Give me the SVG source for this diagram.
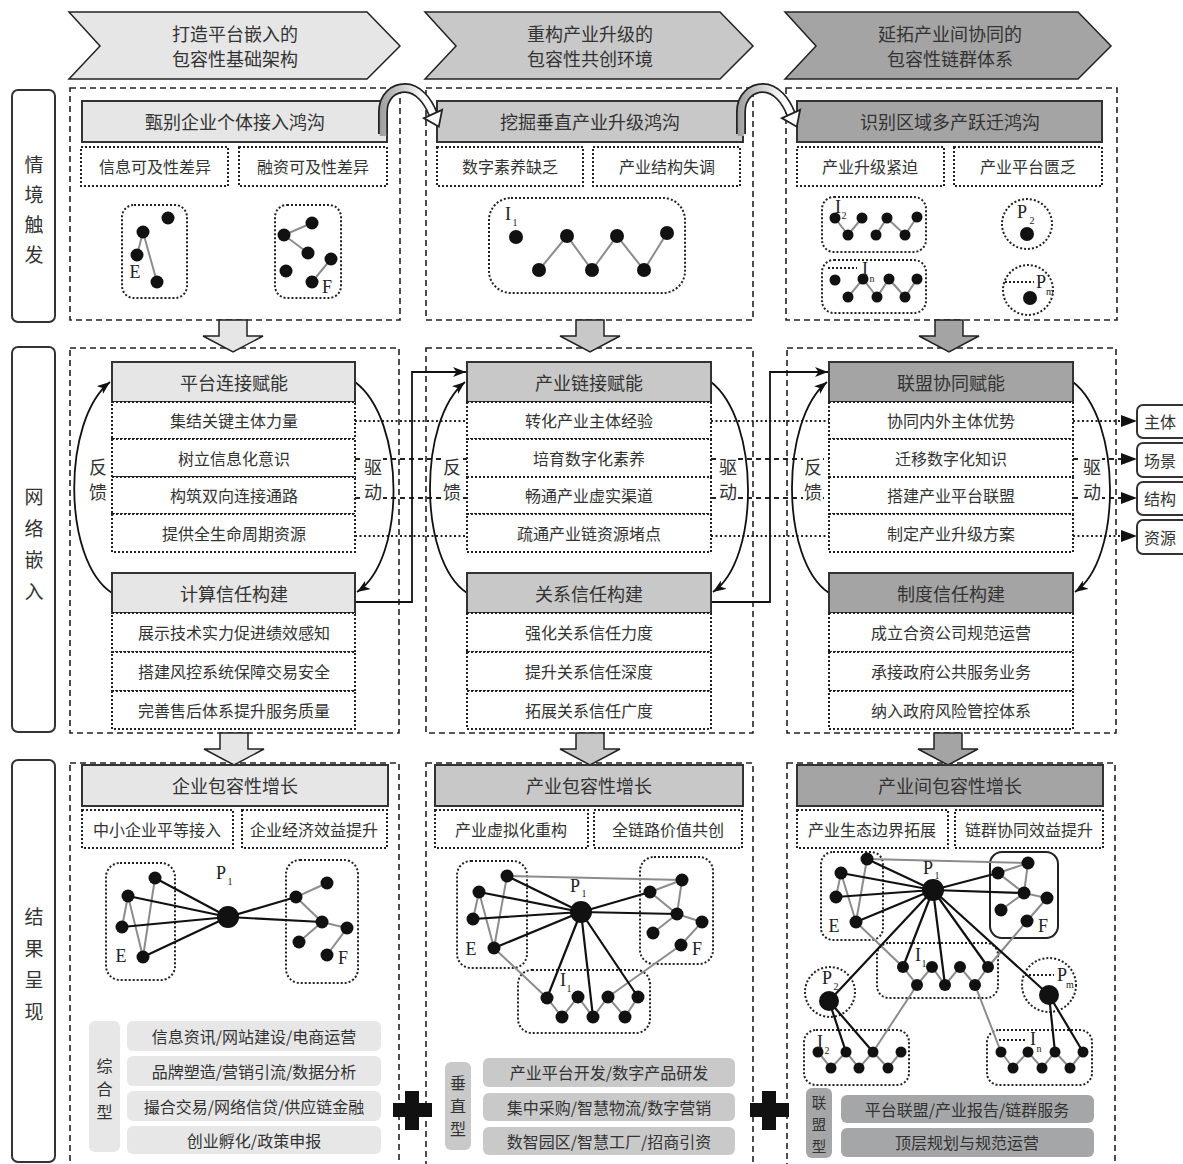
<svg xmlns="http://www.w3.org/2000/svg" width="1183" height="1164" viewBox="0 0 1183 1164">
<defs>
<style>
.cn{font-family:"Noto Sans CJK SC","Noto Sans",sans-serif;fill:#333;text-anchor:middle;dominant-baseline:central}
.f19{font-size:19px}.f18{font-size:18px}.f16{font-size:16px}.f14{font-size:14.5px}
.lt{font-family:"Liberation Serif",serif;fill:#222;font-size:18px;dominant-baseline:central;text-anchor:middle}
.sb{font-family:"Liberation Serif",serif;fill:#222;font-size:10px;dominant-baseline:central;text-anchor:middle}
.dash{fill:none;stroke:#222;stroke-width:1.6;stroke-dasharray:6 4}
.dot{fill:#fff;stroke:#222;stroke-width:2;stroke-dasharray:2 2}
.dotn{fill:none;stroke:#222;stroke-width:2;stroke-dasharray:2 2}
.tb{stroke:#333;stroke-width:2}
.g1{fill:#e6e6e6}.g2{fill:#c8c8c8}.g3{fill:#a4a4a4}
.bk{stroke:#111;stroke-width:2.2;fill:none}
.gy{stroke:#8c8c8c;stroke-width:2;fill:none}
.nd{fill:#111}
.side{fill:#fff;stroke:#333;stroke-width:2}
.blk{stroke:#222;stroke-width:1.5}
.ln{fill:none;stroke:#111;stroke-width:1.8}
.ldot{fill:none;stroke:#222;stroke-width:2;stroke-dasharray:2 2.5}
.ldash{fill:none;stroke:#222;stroke-width:1.8;stroke-dasharray:5 4}
</style>
<marker id="ah" markerUnits="userSpaceOnUse" markerWidth="14" markerHeight="11" refX="13" refY="5" orient="auto">
<path d="M0,0 L13,5 L0,10 L3.5,5 Z" fill="#111"/>
</marker>
<linearGradient id="ga1" x1="378" y1="0" x2="425" y2="0" gradientUnits="userSpaceOnUse"><stop offset="0" stop-color="#999"/><stop offset="1" stop-color="#fff"/></linearGradient>
<linearGradient id="ga2" x1="736" y1="0" x2="783" y2="0" gradientUnits="userSpaceOnUse"><stop offset="0" stop-color="#999"/><stop offset="1" stop-color="#fff"/></linearGradient>
</defs>
<rect width="1183" height="1164" fill="#fff"/>

<!-- headers -->
<g id="header1"><path d="M69,12 H367 L400,46 L367,79 H69 L100,46 Z" class="g1 blk"/><text class="cn f18" x="235" y="33">打造平台嵌入的</text><text class="cn f18" x="235" y="58">包容性基础架构</text></g>
<g id="header2"><path d="M425,12 H720 L753,46 L720,79 H425 L456,46 Z" class="g2 blk"/><text class="cn f18" x="590" y="33">重构产业升级的</text><text class="cn f18" x="590" y="58">包容性共创环境</text></g>
<g id="header3"><path d="M785,12 H1078 L1111,46 L1078,79 H785 L816,46 Z" class="g3 blk"/><text class="cn f18" x="950" y="33">延拓产业间协同的</text><text class="cn f18" x="950" y="58">包容性链群体系</text></g>

<!-- side labels -->
<g id="side1"><rect x="12" y="90" width="43" height="232" rx="6" class="side"/><text class="cn f19" x="34" y="163">情</text><text class="cn f19" x="34" y="193">境</text><text class="cn f19" x="34" y="223">触</text><text class="cn f19" x="34" y="253">发</text></g>
<g id="side2"><rect x="12" y="347" width="43" height="385" rx="6" class="side"/><text class="cn f19" x="34" y="495">网</text><text class="cn f19" x="34" y="527">络</text><text class="cn f19" x="34" y="558">嵌</text><text class="cn f19" x="34" y="590">入</text></g>
<g id="side3"><rect x="12" y="760" width="43" height="402" rx="6" class="side"/><text class="cn f19" x="34" y="915">结</text><text class="cn f19" x="34" y="947">果</text><text class="cn f19" x="34" y="978">呈</text><text class="cn f19" x="34" y="1010">现</text></g>

<!-- containers -->
<g id="containers">
<rect x="70" y="88" width="330" height="232" class="dash"/>
<rect x="426" y="88" width="327" height="232" class="dash"/>
<rect x="786" y="88" width="331" height="232" class="dash"/>
<rect x="70" y="348" width="329" height="385" class="dash"/>
<rect x="426" y="348" width="327" height="385" class="dash"/>
<rect x="787" y="348" width="329" height="385" class="dash"/>
<rect x="70" y="763" width="329" height="410" class="dash"/>
<rect x="426" y="763" width="327" height="410" class="dash"/>
<rect x="787" y="763" width="328" height="410" class="dash"/>
</g>

<!-- connectors -->
<g id="connectors">
<path d="M355,421 H467 M711,421 H829 M1073,421 H1124" class="ldot"/>
<path d="M355,459 H467 M711,459 H829 M1073,459 H1124" class="ldash"/>
<path d="M355,498 H467 M711,498 H829 M1073,498 H1124" class="ldash"/>
<path d="M355,536 H467 M711,536 H829 M1073,536 H1124" class="ldot"/>
<path d="M1121,415 L1137,421 L1121,427 Z M1121,453 L1137,459 L1121,465 Z M1121,492 L1137,498 L1121,504 Z M1121,530 L1137,536 L1121,542 Z" fill="#111"/>
<path d="M112,593 C62,560 62,420 110,382" class="ln" marker-end="url(#ah)"/>
<path d="M355,382 C406,420 406,560 357,592" class="ln" marker-end="url(#ah)"/>
<path d="M467,593 C418,560 418,420 465,382" class="ln" marker-end="url(#ah)"/>
<path d="M711,382 C760,420 760,560 713,592" class="ln" marker-end="url(#ah)"/>
<path d="M829,593 C780,560 780,420 827,382" class="ln" marker-end="url(#ah)"/>
<path d="M1073,382 C1122,420 1122,560 1075,592" class="ln" marker-end="url(#ah)"/>
<path d="M355,602 H412 V372 H466" class="ln" marker-end="url(#ah)"/>
<path d="M711,602 H770 V372 H828" class="ln" marker-end="url(#ah)"/>
<path d="M219,320 H247 V336 H263 L233,352 L203,336 H219 Z" class="g1 blk"/>
<path d="M576,320 H604 V336 H620 L590,352 L560,336 H576 Z" class="g2 blk"/>
<path d="M935,320 H963 V336 H979 L949,352 L919,336 H935 Z" class="g3 blk"/>
<path d="M220,733 H248 V749 H264 L234,765 L204,749 H220 Z" class="g1 blk"/>
<path d="M576,733 H604 V749 H620 L590,765 L560,749 H576 Z" class="g2 blk"/>
<path d="M934,733 H962 V749 H978 L948,765 L918,749 H934 Z" class="g3 blk"/>
</g>

<!-- row 1 -->
<g id="gap1">
<rect x="82" y="101" width="305" height="41" class="g1 tb"/><text class="cn f18" x="235" y="121">甄别企业个体接入鸿沟</text>
<rect x="81" y="147" width="147" height="39" class="dot"/><text class="cn f16" x="155" y="166">信息可及性差异</text>
<rect x="239" y="147" width="148" height="39" class="dot"/><text class="cn f16" x="313" y="166">融资可及性差异</text>
<rect x="122" y="205" width="65" height="93" rx="12" class="dotn"/>
<rect x="275" y="205" width="66" height="93" rx="12" class="dotn"/>
<path d="M137,255 L143,232 L157,282 M312,223 L284,235 L308,253 M331,259 L312,282" class="gy"/>
<g class="nd"><circle cx="168" cy="218" r="6.5"/><circle cx="143" cy="232" r="6.5"/><circle cx="137" cy="255" r="6.5"/><circle cx="157" cy="282" r="6.5"/><circle cx="312" cy="223" r="6.5"/><circle cx="284" cy="235" r="6.5"/><circle cx="308" cy="253" r="6.5"/><circle cx="331" cy="259" r="6.5"/><circle cx="286" cy="271" r="6.5"/><circle cx="312" cy="282" r="6.5"/></g>
<text class="lt" x="135" y="272">E</text><text class="lt" x="327" y="287">F</text>
</g>
<g id="gap2">
<rect x="437" y="101" width="306" height="41" class="g2 tb"/><text class="cn f18" x="590" y="121">挖掘垂直产业升级鸿沟</text>
<rect x="437" y="147" width="146" height="39" class="dot"/><text class="cn f16" x="510" y="166">数字素养缺乏</text>
<rect x="593" y="147" width="147" height="39" class="dot"/><text class="cn f16" x="667" y="166">产业结构失调</text>
<rect x="489" y="198" width="196" height="95" rx="22" class="dotn"/>
<path d="M539,270 L567,236 L592,270 L617,236 L644,270 L667,233" class="gy"/>
<g class="nd"><circle cx="516" cy="237" r="7"/><circle cx="539" cy="270" r="7"/><circle cx="567" cy="236" r="7"/><circle cx="592" cy="270" r="7"/><circle cx="617" cy="236" r="7"/><circle cx="644" cy="270" r="7"/><circle cx="667" cy="233" r="7"/></g>
<text class="lt" x="508" y="214">I</text><text class="sb" x="515" y="222">1</text>
</g>
<g id="gap3">
<rect x="797" y="101" width="305" height="41" class="g3 tb"/><text class="cn f18" x="950" y="121">识别区域多产跃迁鸿沟</text>
<rect x="797" y="147" width="147" height="39" class="dot"/><text class="cn f16" x="870" y="166">产业升级紧迫</text>
<rect x="954" y="147" width="148" height="39" class="dot"/><text class="cn f16" x="1028" y="166">产业平台匮乏</text>
<rect x="822" y="197" width="104" height="55" rx="12" class="dotn"/>
<rect x="822" y="260" width="104" height="53" rx="12" class="dotn"/>
<path d="M835,218 L848,235 L862,218 M876,235 L887,218 L905,235 L917,217 M848,297 L863,279 L877,297 L889,279 L905,297 L917,279" class="gy"/>
<path d="M828,268 H857" class="dotn"/>
<g class="nd"><circle cx="835" cy="218" r="5.5"/><circle cx="848" cy="235" r="5.5"/><circle cx="862" cy="218" r="5.5"/><circle cx="876" cy="235" r="5.5"/><circle cx="887" cy="218" r="5.5"/><circle cx="905" cy="235" r="5.5"/><circle cx="917" cy="217" r="5.5"/>
<circle cx="835" cy="280" r="5.5"/><circle cx="848" cy="297" r="5.5"/><circle cx="863" cy="279" r="5.5"/><circle cx="877" cy="297" r="5.5"/><circle cx="889" cy="279" r="5.5"/><circle cx="905" cy="297" r="5.5"/><circle cx="917" cy="279" r="5.5"/></g>
<text class="lt" x="838" y="207">I</text><text class="sb" x="844" y="215">2</text>
<text class="lt" x="865" y="269">I</text><text class="sb" x="872" y="278">n</text>
<circle cx="1027" cy="224" r="25" class="dotn"/><circle cx="1028" cy="290" r="25" class="dotn"/>
<path d="M1005,282 H1034" class="dotn"/>
<circle cx="1027" cy="234" r="7" class="nd"/><circle cx="1030" cy="298" r="7" class="nd"/>
<text class="lt" x="1022" y="212">P</text><text class="sb" x="1032" y="220">2</text>
<text class="lt" x="1041" y="282">P</text><text class="sb" x="1050" y="291">m</text>
</g>

<!-- grey curved arrows -->
<g id="turn1">
<path d="M383,134 L383,112 C383,96 394,88 405,88 C418,88 428,101 433,114" fill="none" stroke="#222" stroke-width="10"/>
<path d="M383,136 L383,112 C383,96 394,88 405,88 C418,88 428,101 433,114" fill="none" stroke="url(#ga1)" stroke-width="6.5"/>
<path d="M423.9,118.1 L438.8,126.7 L442.1,109.9 Z" fill="#fff" stroke="#222" stroke-width="1.8"/>
</g>
<g id="turn2">
<path d="M741,134 L741,112 C741,96 752,88 763,88 C776,88 786,101 791,114" fill="none" stroke="#222" stroke-width="10"/>
<path d="M741,136 L741,112 C741,96 752,88 763,88 C776,88 786,101 791,114" fill="none" stroke="url(#ga2)" stroke-width="6.5"/>
<path d="M781.9,118.1 L796.8,126.7 L800.1,109.9 Z" fill="#fff" stroke="#222" stroke-width="1.8"/>
</g>

<!-- row 2 -->
<g id="net1">
<rect x="112" y="362" width="243" height="40" class="g1 tb"/><text class="cn f18" x="234" y="382">平台连接赋能</text>
<rect x="112" y="402" width="243" height="37" class="dot"/><text class="cn f16" x="234" y="420">集结关键主体力量</text>
<rect x="112" y="439" width="243" height="38" class="dot"/><text class="cn f16" x="234" y="458">树立信息化意识</text>
<rect x="112" y="477" width="243" height="37" class="dot"/><text class="cn f16" x="234" y="495">构筑双向连接通路</text>
<rect x="112" y="514" width="243" height="38" class="dot"/><text class="cn f16" x="234" y="533">提供全生命周期资源</text>
<rect x="112" y="573" width="243" height="40" class="g1 tb"/><text class="cn f18" x="234" y="593">计算信任构建</text>
<rect x="112" y="613" width="243" height="39" class="dot"/><text class="cn f16" x="234" y="632">展示技术实力促进绩效感知</text>
<rect x="112" y="652" width="243" height="39" class="dot"/><text class="cn f16" x="234" y="671">搭建风控系统保障交易安全</text>
<rect x="112" y="691" width="243" height="38" class="dot"/><text class="cn f16" x="234" y="710">完善售后体系提升服务质量</text>
</g>
<g id="net2">
<rect x="467" y="362" width="244" height="40" class="g2 tb"/><text class="cn f18" x="589" y="382">产业链接赋能</text>
<rect x="467" y="402" width="244" height="37" class="dot"/><text class="cn f16" x="589" y="420">转化产业主体经验</text>
<rect x="467" y="439" width="244" height="38" class="dot"/><text class="cn f16" x="589" y="458">培育数字化素养</text>
<rect x="467" y="477" width="244" height="37" class="dot"/><text class="cn f16" x="589" y="495">畅通产业虚实渠道</text>
<rect x="467" y="514" width="244" height="38" class="dot"/><text class="cn f16" x="589" y="533">疏通产业链资源堵点</text>
<rect x="467" y="573" width="244" height="40" class="g2 tb"/><text class="cn f18" x="589" y="593">关系信任构建</text>
<rect x="467" y="613" width="244" height="39" class="dot"/><text class="cn f16" x="589" y="632">强化关系信任力度</text>
<rect x="467" y="652" width="244" height="39" class="dot"/><text class="cn f16" x="589" y="671">提升关系信任深度</text>
<rect x="467" y="691" width="244" height="38" class="dot"/><text class="cn f16" x="589" y="710">拓展关系信任广度</text>
</g>
<g id="net3">
<rect x="829" y="362" width="244" height="40" class="g3 tb"/><text class="cn f18" x="951" y="382">联盟协同赋能</text>
<rect x="829" y="402" width="244" height="37" class="dot"/><text class="cn f16" x="951" y="420">协同内外主体优势</text>
<rect x="829" y="439" width="244" height="38" class="dot"/><text class="cn f16" x="951" y="458">迁移数字化知识</text>
<rect x="829" y="477" width="244" height="37" class="dot"/><text class="cn f16" x="951" y="495">搭建产业平台联盟</text>
<rect x="829" y="514" width="244" height="38" class="dot"/><text class="cn f16" x="951" y="533">制定产业升级方案</text>
<rect x="829" y="573" width="244" height="40" class="g3 tb"/><text class="cn f18" x="951" y="593">制度信任构建</text>
<rect x="829" y="613" width="244" height="39" class="dot"/><text class="cn f16" x="951" y="632">成立合资公司规范运营</text>
<rect x="829" y="652" width="244" height="39" class="dot"/><text class="cn f16" x="951" y="671">承接政府公共服务业务</text>
<rect x="829" y="691" width="244" height="38" class="dot"/><text class="cn f16" x="951" y="710">纳入政府风险管控体系</text>
</g>
<g id="loop-labels" fill="#fff">
<rect x="88" y="453" width="20" height="50"/><text class="cn f18" x="98" y="466">反</text><text class="cn f18" x="98" y="491">馈</text>
<rect x="363" y="453" width="20" height="50"/><text class="cn f18" x="373" y="466">驱</text><text class="cn f18" x="373" y="491">动</text>
<rect x="442" y="453" width="20" height="50"/><text class="cn f18" x="452" y="466">反</text><text class="cn f18" x="452" y="491">馈</text>
<rect x="718" y="453" width="20" height="50"/><text class="cn f18" x="728" y="466">驱</text><text class="cn f18" x="728" y="491">动</text>
<rect x="803" y="453" width="20" height="50"/><text class="cn f18" x="813" y="466">反</text><text class="cn f18" x="813" y="491">馈</text>
<rect x="1082" y="453" width="20" height="50"/><text class="cn f18" x="1092" y="466">驱</text><text class="cn f18" x="1092" y="491">动</text>
</g>
<g id="dim-subject"><rect x="1137" y="405" width="52" height="33" rx="6" class="side"/><text class="cn f16" x="1160" y="421">主体</text></g>
<g id="dim-scene"><rect x="1137" y="443" width="52" height="34" rx="6" class="side"/><text class="cn f16" x="1160" y="460">场景</text></g>
<g id="dim-structure"><rect x="1137" y="482" width="52" height="33" rx="6" class="side"/><text class="cn f16" x="1160" y="498">结构</text></g>
<g id="dim-resource"><rect x="1137" y="520" width="52" height="34" rx="6" class="side"/><text class="cn f16" x="1160" y="537">资源</text></g>

<!-- row 3 -->
<g id="res1">
<rect x="82" y="765" width="306" height="41" class="g1 tb"/><text class="cn f18" x="235" y="785">企业包容性增长</text>
<rect x="82" y="810" width="151" height="38" class="dot"/><text class="cn f16" x="157" y="829">中小企业平等接入</text>
<rect x="242" y="810" width="145" height="38" class="dot"/><text class="cn f16" x="314" y="829">企业经济效益提升</text>
<rect x="106" y="863" width="69" height="117" rx="14" class="dotn"/>
<rect x="286" y="860" width="72" height="123" rx="14" class="dotn"/>
<path d="M128,896 L122,927 M128,896 L143,957 L155,878 M327,883 L296,897 L322,922 L347,928 L327,955 M322,922 L299,942" class="gy"/>
<path d="M228,917 L155,878 M228,917 L128,896 M228,917 L122,927 M228,917 L143,957 M228,917 L296,897 M228,917 L322,922" class="bk"/>
<g class="nd"><circle cx="228" cy="917" r="11"/><circle cx="155" cy="878" r="6.5"/><circle cx="128" cy="896" r="6.5"/><circle cx="122" cy="927" r="6.5"/><circle cx="143" cy="957" r="6.5"/><circle cx="327" cy="883" r="6.5"/><circle cx="296" cy="897" r="6.5"/><circle cx="322" cy="922" r="6.5"/><circle cx="347" cy="928" r="6.5"/><circle cx="299" cy="942" r="6.5"/><circle cx="327" cy="955" r="6.5"/></g>
<text class="lt" x="221" y="873">P</text><text class="sb" x="230" y="881">1</text>
<text class="lt" x="121" y="956">E</text><text class="lt" x="343" y="958">F</text>
<rect x="89" y="1021" width="31" height="131" rx="6" fill="#e7e7e8"/>
<text class="cn f16" x="104.5" y="1065">综</text><text class="cn f16" x="104.5" y="1088">合</text><text class="cn f16" x="104.5" y="1111">型</text>
<rect x="127" y="1021" width="254" height="30" rx="6" fill="#e7e7e8"/><text class="cn f16" x="254" y="1036">信息资讯/网站建设/电商运营</text>
<rect x="127" y="1056" width="254" height="30" rx="6" fill="#e7e7e8"/><text class="cn f16" x="254" y="1071">品牌塑造/营销引流/数据分析</text>
<rect x="127" y="1091" width="254" height="30" rx="6" fill="#e7e7e8"/><text class="cn f16" x="254" y="1106">撮合交易/网络信贷/供应链金融</text>
<rect x="127" y="1126" width="254" height="28" rx="6" fill="#e7e7e8"/><text class="cn f16" x="254" y="1140">创业孵化/政策申报</text>
</g>
<g id="res2">
<rect x="435" y="765" width="308" height="41" class="g2 tb"/><text class="cn f18" x="589" y="785">产业包容性增长</text>
<rect x="435" y="810" width="153" height="38" class="dot"/><text class="cn f16" x="511" y="829">产业虚拟化重构</text>
<rect x="594" y="810" width="148" height="38" class="dot"/><text class="cn f16" x="668" y="829">全链路价值共创</text>
<rect x="457" y="861" width="70" height="107" rx="14" class="dotn"/>
<rect x="640" y="857" width="73" height="107" rx="14" class="dotn"/>
<rect x="518" y="970" width="132" height="63" rx="14" class="dotn"/>
<path d="M507,876 L682,880 M479,892 L473,919 M479,892 L494,948 L507,876 M494,948 L547,998 L562,1017 L578,997 L593,1017 L608,997 L625,1017 L638,997 M650,892 L682,880 L677,914 L650,892 M677,914 L702,922 L681,945 L608,997 M677,914 L653,933" class="gy"/>
<path d="M581,912 L507,876 M581,912 L479,892 M581,912 L473,919 M581,912 L494,948 M581,912 L650,892 M581,912 L677,914 M581,912 L547,998 M581,912 L593,1017 M581,912 L638,997" class="bk"/>
<g class="nd"><circle cx="581" cy="912" r="11"/><circle cx="507" cy="876" r="6.5"/><circle cx="479" cy="892" r="6.5"/><circle cx="473" cy="919" r="6.5"/><circle cx="494" cy="948" r="6.5"/><circle cx="682" cy="880" r="6.5"/><circle cx="650" cy="892" r="6.5"/><circle cx="677" cy="914" r="6.5"/><circle cx="702" cy="922" r="6.5"/><circle cx="653" cy="933" r="6.5"/><circle cx="681" cy="945" r="6.5"/>
<circle cx="547" cy="998" r="6.5"/><circle cx="562" cy="1017" r="6.5"/><circle cx="578" cy="997" r="6.5"/><circle cx="593" cy="1017" r="6.5"/><circle cx="608" cy="997" r="6.5"/><circle cx="625" cy="1017" r="6.5"/><circle cx="638" cy="997" r="6.5"/></g>
<text class="lt" x="575" y="886">P</text><text class="sb" x="584" y="893">1</text>
<text class="lt" x="471" y="949">E</text><text class="lt" x="697" y="949">F</text>
<text class="lt" x="563" y="980">I</text><text class="sb" x="569" y="988">1</text>
<rect x="445" y="1062" width="26" height="88" rx="6" fill="#c9c9ca"/>
<text class="cn f16" x="458" y="1082">垂</text><text class="cn f16" x="458" y="1105">直</text><text class="cn f16" x="458" y="1128">型</text>
<rect x="483" y="1058" width="252" height="29" rx="6" fill="#c9c9ca"/><text class="cn f16" x="609" y="1072">产业平台开发/数字产品研发</text>
<rect x="483" y="1093" width="252" height="28" rx="6" fill="#c9c9ca"/><text class="cn f16" x="609" y="1107">集中采购/智慧物流/数字营销</text>
<rect x="483" y="1127" width="252" height="28" rx="6" fill="#c9c9ca"/><text class="cn f16" x="609" y="1141">数智园区/智慧工厂/招商引资</text>
</g>
<g id="res3">
<rect x="797" y="765" width="306" height="41" class="g3 tb"/><text class="cn f18" x="950" y="785">产业间包容性增长</text>
<rect x="797" y="810" width="151" height="38" class="dot"/><text class="cn f16" x="872" y="829">产业生态边界拓展</text>
<rect x="955" y="810" width="148" height="38" class="dot"/><text class="cn f16" x="1029" y="829">链群协同效益提升</text>
<rect x="821" y="852" width="62" height="88" rx="12" class="dotn"/>
<rect x="990" y="852" width="68" height="86" rx="12" fill="none" stroke="#222" stroke-width="2"/>
<rect x="877" y="943" width="121" height="55" rx="12" class="dotn"/>
<circle cx="830" cy="992" r="25" class="dotn"/>
<circle cx="1049" cy="985" r="27" class="dotn"/>
<rect x="804" y="1030" width="105" height="55" rx="12" class="dotn"/>
<rect x="987" y="1030" width="105" height="55" rx="12" class="dotn"/>
<path d="M1025,975 H1054 M999,1040 H1027" class="dotn"/>
<path d="M867,859 L1028,863 M841,873 L836,897 M841,873 L856,922 L867,859 M856,922 L903,967 L917,985 L932,967 L945,985 L960,967 L975,985 L988,967 M998,873 L1028,863 L1024,893 L998,873 M1024,893 L1047,898 L1027,921 L988,967 M1024,893 L1001,910 M917,985 L873,1052 M975,985 L1001,1052 M818,1052 L831,1068 L846,1052 L859,1068 L873,1052 L888,1068 L901,1052 M1001,1052 L1013,1068 L1028,1052 L1042,1068 L1055,1052 L1070,1068 L1083,1052" class="gy"/>
<path d="M933,890 L867,859 M933,890 L841,873 M933,890 L836,897 M933,890 L856,922 M933,890 L998,873 M933,890 L1024,893 M933,890 L903,967 M933,890 L945,985 M933,890 L988,967 M933,890 L829,1001 M933,890 L1049,995 M829,1001 L846,1052 M829,1001 L873,1052 M1049,995 L1055,1052 M1049,995 L1083,1052" class="bk"/>
<g class="nd"><circle cx="933" cy="890" r="11"/><circle cx="829" cy="1001" r="10"/><circle cx="1049" cy="995" r="10"/>
<circle cx="867" cy="859" r="6.5"/><circle cx="841" cy="873" r="6.5"/><circle cx="836" cy="897" r="6.5"/><circle cx="856" cy="922" r="6.5"/>
<circle cx="1028" cy="863" r="6.5"/><circle cx="998" cy="873" r="6.5"/><circle cx="1024" cy="893" r="6.5"/><circle cx="1047" cy="898" r="6.5"/><circle cx="1001" cy="910" r="6.5"/><circle cx="1027" cy="921" r="6.5"/>
<circle cx="903" cy="967" r="6"/><circle cx="917" cy="985" r="6"/><circle cx="932" cy="967" r="6"/><circle cx="945" cy="985" r="6"/><circle cx="960" cy="967" r="6"/><circle cx="975" cy="985" r="6"/><circle cx="988" cy="967" r="6"/>
<circle cx="818" cy="1052" r="5.5"/><circle cx="831" cy="1068" r="5.5"/><circle cx="846" cy="1052" r="5.5"/><circle cx="859" cy="1068" r="5.5"/><circle cx="873" cy="1052" r="5.5"/><circle cx="888" cy="1068" r="5.5"/><circle cx="901" cy="1052" r="5.5"/>
<circle cx="1001" cy="1052" r="5.5"/><circle cx="1013" cy="1068" r="5.5"/><circle cx="1028" cy="1052" r="5.5"/><circle cx="1042" cy="1068" r="5.5"/><circle cx="1055" cy="1052" r="5.5"/><circle cx="1070" cy="1068" r="5.5"/><circle cx="1083" cy="1052" r="5.5"/></g>
<text class="lt" x="928" y="868">P</text><text class="sb" x="937" y="875">1</text>
<text class="lt" x="834" y="926">E</text><text class="lt" x="1043" y="926">F</text>
<text class="lt" x="918" y="955">I</text><text class="sb" x="924" y="963">1</text>
<text class="lt" x="827" y="978">P</text><text class="sb" x="836" y="986">2</text>
<text class="lt" x="1062" y="975">P</text><text class="sb" x="1070" y="984">m</text>
<text class="lt" x="820" y="1042">I</text><text class="sb" x="827" y="1050">2</text>
<text class="lt" x="1033" y="1039">I</text><text class="sb" x="1039" y="1048">n</text>
<rect x="806" y="1088" width="26" height="70" rx="6" fill="#a5a6a8"/>
<text class="cn f14" x="819" y="1101">联</text><text class="cn f14" x="819" y="1123">盟</text><text class="cn f14" x="819" y="1145">型</text>
<rect x="841" y="1095" width="253" height="28" rx="6" fill="#a5a6a8"/><text class="cn f16" x="967" y="1109">平台联盟/产业报告/链群服务</text>
<rect x="841" y="1128" width="253" height="29" rx="6" fill="#a5a6a8"/><text class="cn f16" x="967" y="1142">顶层规划与规范运营</text>
</g>
<g id="plus1" fill="#111"><rect x="405" y="1091" width="14" height="39"/><rect x="393" y="1103" width="39" height="14"/></g>
<g id="plus2" fill="#111"><rect x="762" y="1091" width="14" height="39"/><rect x="750" y="1103" width="39" height="14"/></g>
</svg>
